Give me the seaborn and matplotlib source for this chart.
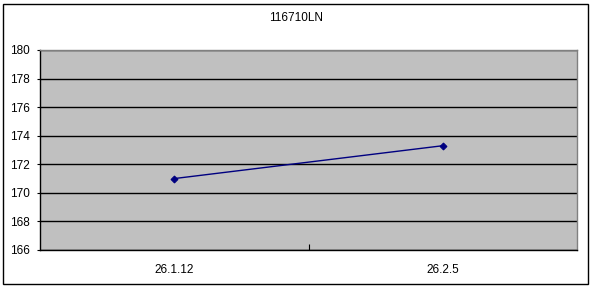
import matplotlib
matplotlib.use("Agg")
import matplotlib.pyplot as plt
from matplotlib.patches import Rectangle
import seaborn as sns
import pandas as pd

categories = ["26.1.12", "26.2.5"]
values = [171.0, 173.3]
title = "116710LN"
yticks = [166, 168, 170, 172, 174, 176, 178, 180]

sns.set_style("white")
plt.rcParams['font.family'] = ['Liberation Sans', 'DejaVu Sans']
plt.rcParams['text.color'] = 'black'
plt.rcParams['xtick.color'] = 'black'
plt.rcParams['ytick.color'] = 'black'
plt.rcParams['xtick.labelcolor'] = 'black'
plt.rcParams['ytick.labelcolor'] = 'black'

df = pd.DataFrame({"date": categories, "value": values})

fig = plt.figure(figsize=(5.92, 2.88), dpi=100)
ax = fig.add_axes([40/592, 38/288, 537/592, 200/288])
ax.set_facecolor("#c0c0c0")

sns.lineplot(data=df, x="date", y="value", ax=ax, sort=False,
             color="#000080", linewidth=1.0, marker="D", markersize=3.5,
             markeredgecolor="#000080", markerfacecolor="#000080")

ax.set_xlim(-0.5, 1.5)
ax.set_ylim(yticks[0], yticks[-1])
ax.set_yticks(yticks)
ax.set_yticklabels([str(t) for t in yticks])
ax.yaxis.grid(True, color="black", linewidth=1.0)
ax.set_axisbelow(True)
ax.set_xlabel("")
ax.set_ylabel("")

ax.tick_params(axis="y", direction="out", length=2, width=0.8, labelsize=8.5, pad=5, left=True, colors="black")
ax.tick_params(axis="x", length=0, labelsize=8.5, pad=10, labelcolor="black")
ax.set_xticks(range(len(categories)))
ax.set_xticklabels(categories)
ax.set_xticks([0.5], minor=True)
ax.tick_params(axis="x", which="minor", direction="in", length=4, width=0.8, bottom=True, colors="black")

for side in ["top", "right"]:
    ax.spines[side].set_color("#808080")
    ax.spines[side].set_linewidth(1.0)
for side in ["left", "bottom"]:
    ax.spines[side].set_color("black")
    ax.spines[side].set_linewidth(1.0)

fig.text(296/592, 1 - 18/288, title, ha="center", va="center", fontsize=8.5, color="black")

fig.patches.append(Rectangle((3/592, 4/288), 585/592, 280/288, transform=fig.transFigure,
                             fill=False, edgecolor="black", linewidth=1.0))

fig.savefig("out.png", dpi=100)
